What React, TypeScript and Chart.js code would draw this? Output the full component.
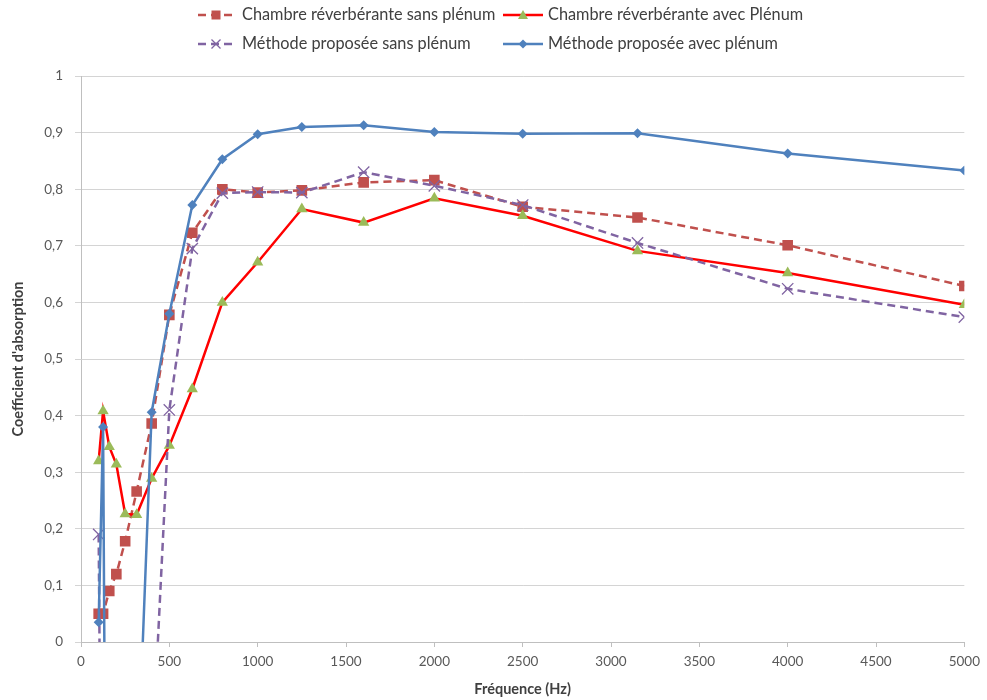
import React, { useEffect, useRef } from 'react';
import { Chart, registerables } from 'chart.js';

Chart.register(...registerables);

const frequencies = [100, 125, 160, 200, 250, 315, 400, 500, 630, 800, 1000, 1250, 1600, 2000, 2500, 3150, 4000, 5000];
const chambreSansPlenum = [0.05, 0.05, 0.09, 0.12, 0.178, 0.266, 0.386, 0.578, 0.723, 0.8, 0.794, 0.798, 0.812, 0.816, 0.769, 0.75, 0.701, 0.629];
const chambreAvecPlenum = [0.32, 0.408, 0.345, 0.314, 0.226, 0.225, 0.289, 0.347, 0.447, 0.6, 0.671, 0.765, 0.741, 0.784, 0.753, 0.691, 0.652, 0.596];
const methodeSansPlenum = [0.19, -0.8, -1.2, -1.5, -1.2, -0.8, -0.22, 0.41, 0.695, 0.793, 0.795, 0.794, 0.83, 0.806, 0.772, 0.705, 0.624, 0.574];
const methodeAvecPlenum = [0.035, 0.38, -1.5, -1.8, -1.5, -0.28, 0.406, 0.58, 0.772, 0.853, 0.897, 0.91, 0.913, 0.901, 0.898, 0.899, 0.863, 0.833];

const seriesLabels = [
  'Chambre réverbérante sans plénum',
  'Chambre réverbérante avec Plénum',
  'Méthode proposée sans plénum',
  'Méthode proposée avec plénum',
];
const xTitle = 'Fréquence (Hz)';
const yTitle = "Coefficient d'absorption";

const FONT = 'Lato, "Open Sans", sans-serif';

const toPoints = (ys: number[]) => frequencies.map((f, i) => ({ x: f, y: ys[i] }));

const legendPlugin = {
  id: 'gridLegend',
  afterDraw(chart: any) {
    const ctx = chart.ctx as CanvasRenderingContext2D;
    const slots = [
      { x0: 198, x1: 234, tx: 242, y: 15 },
      { x0: 503, x1: 543, tx: 548, y: 15 },
      { x0: 198, x1: 234, tx: 242, y: 44 },
      { x0: 503, x1: 543, tx: 548, y: 44 },
    ];
    chart.data.datasets.forEach((ds: any, i: number) => {
      const s = slots[i];
      ctx.save();
      ctx.strokeStyle = ds.borderColor;
      ctx.lineWidth = ds.borderWidth;
      ctx.setLineDash(ds.borderDash || []);
      ctx.beginPath();
      ctx.moveTo(s.x0, s.y);
      ctx.lineTo(s.x1, s.y);
      ctx.stroke();
      ctx.setLineDash([]);
      const cx = (s.x0 + s.x1) / 2;
      const cy = s.y;
      ctx.fillStyle = ds.pointBackgroundColor;
      ctx.strokeStyle = ds.pointBorderColor;
      ctx.lineWidth = 1.3;
      const st = ds.pointStyle;
      ctx.beginPath();
      if (st === 'rect') {
        ctx.fillRect(cx - 4.5, cy - 4.5, 9, 9);
      } else if (st === 'triangle') {
        ctx.moveTo(cx, cy - 5);
        ctx.lineTo(cx + 5, cy + 4);
        ctx.lineTo(cx - 5, cy + 4);
        ctx.closePath();
        ctx.fill();
      } else if (st === 'rectRot') {
        ctx.moveTo(cx, cy - 4.5);
        ctx.lineTo(cx + 4.5, cy);
        ctx.lineTo(cx, cy + 4.5);
        ctx.lineTo(cx - 4.5, cy);
        ctx.closePath();
        ctx.fill();
      } else if (st === 'crossRot') {
        ctx.moveTo(cx - 4.5, cy - 4.5);
        ctx.lineTo(cx + 4.5, cy + 4.5);
        ctx.moveTo(cx + 4.5, cy - 4.5);
        ctx.lineTo(cx - 4.5, cy + 4.5);
        ctx.stroke();
      }
      ctx.fillStyle = '#404040';
      ctx.font = `16.3px ${FONT}`;
      ctx.textAlign = 'left';
      ctx.textBaseline = 'middle';
      ctx.fillText(ds.label, s.tx, s.y);
      ctx.restore();
    });
  },
};

export default function App() {
  const canvasRef = useRef<HTMLCanvasElement | null>(null);

  useEffect(() => {
    if (!canvasRef.current) return;
    const chart = new Chart(canvasRef.current, {
      type: 'line',
      data: {
        datasets: [
          {
            label: seriesLabels[0],
            data: toPoints(chambreSansPlenum),
            borderColor: '#C0504D',
            backgroundColor: '#C0504D',
            borderWidth: 2.5,
            borderDash: [8, 5],
            pointStyle: 'rect',
            pointRadius: 7.5,
            pointBackgroundColor: '#C0504D',
            pointBorderColor: '#C0504D',
            pointBorderWidth: 0,
            tension: 0,
            order: 3,
          },
          {
            label: seriesLabels[1],
            data: toPoints(chambreAvecPlenum),
            borderColor: '#FF0000',
            backgroundColor: '#9BBB59',
            borderWidth: 2.5,
            pointStyle: 'triangle',
            pointRadius: 6.5,
            pointBackgroundColor: '#9BBB59',
            pointBorderColor: '#9BBB59',
            pointBorderWidth: 0,
            tension: 0,
            order: 2,
          },
          {
            label: seriesLabels[2],
            data: toPoints(methodeSansPlenum),
            borderColor: '#8064A2',
            backgroundColor: '#8064A2',
            borderWidth: 2.5,
            borderDash: [8, 5],
            pointStyle: 'crossRot',
            pointRadius: 8,
            pointBackgroundColor: '#8064A2',
            pointBorderColor: '#8064A2',
            pointBorderWidth: 1.3,
            tension: 0,
            order: 1,
          },
          {
            label: seriesLabels[3],
            data: toPoints(methodeAvecPlenum),
            borderColor: '#4F81BD',
            backgroundColor: '#4F81BD',
            borderWidth: 2.5,
            pointStyle: 'rectRot',
            pointRadius: 5,
            pointBackgroundColor: '#4F81BD',
            pointBorderColor: '#4F81BD',
            pointBorderWidth: 0,
            tension: 0,
            order: 0,
          },
        ],
      },
      options: {
        animation: false,
        responsive: true,
        maintainAspectRatio: false,
        layout: { padding: { top: 76, right: 21, left: 0, bottom: 0 } },
        plugins: {
          legend: { display: false },
          tooltip: { enabled: false },
        },
        scales: {
          x: {
            type: 'linear',
            min: 0,
            max: 5000,
            afterFit: (scale: any) => {
              scale.height = 58;
            },
            ticks: {
              stepSize: 500,
              padding: 7,
              color: '#595959',
              font: { family: FONT, size: 13.5 },
              callback: (v: any) => String(v),
              maxRotation: 0,
            },
            grid: {
              drawOnChartArea: false,
              drawTicks: true,
              tickLength: 5,
              color: '#BFBFBF',
            },
            border: { display: true, color: '#BFBFBF', width: 1 },
            title: {
              display: true,
              text: xTitle,
              color: '#404040',
              font: { family: FONT, size: 14.5, weight: 'bold' },
              padding: { top: 0, bottom: 2 },
            },
          },
          y: {
            type: 'linear',
            min: 0,
            max: 1,
            afterFit: (scale: any) => {
              scale.width = 81;
            },
            ticks: {
              stepSize: 0.1,
              padding: 12,
              color: '#595959',
              font: { family: FONT, size: 13.5 },
              callback: (v: any) => {
                const n = Number(v);
                if (Math.abs(n) < 1e-9) return '0';
                if (Math.abs(n - 1) < 1e-9) return '1';
                return n.toFixed(1).replace('.', ',');
              },
            },
            grid: {
              drawTicks: true,
              tickLength: 6,
              color: '#D4D4D4',
              lineWidth: 1,
            },
            border: { display: true, color: '#BFBFBF', width: 1 },
            title: {
              display: true,
              text: yTitle,
              color: '#404040',
              font: { family: FONT, size: 14.5, weight: 'bold' },
              padding: { top: 10, bottom: 0 },
            },
          },
        },
      },
      plugins: [legendPlugin],
    } as any);
    return () => chart.destroy();
  }, []);

  return (
    <div style={{ position: 'fixed', left: 0, top: 0, width: 987, height: 700, background: '#FFFFFF' }}>
      <canvas ref={canvasRef} />
    </div>
  );
}
